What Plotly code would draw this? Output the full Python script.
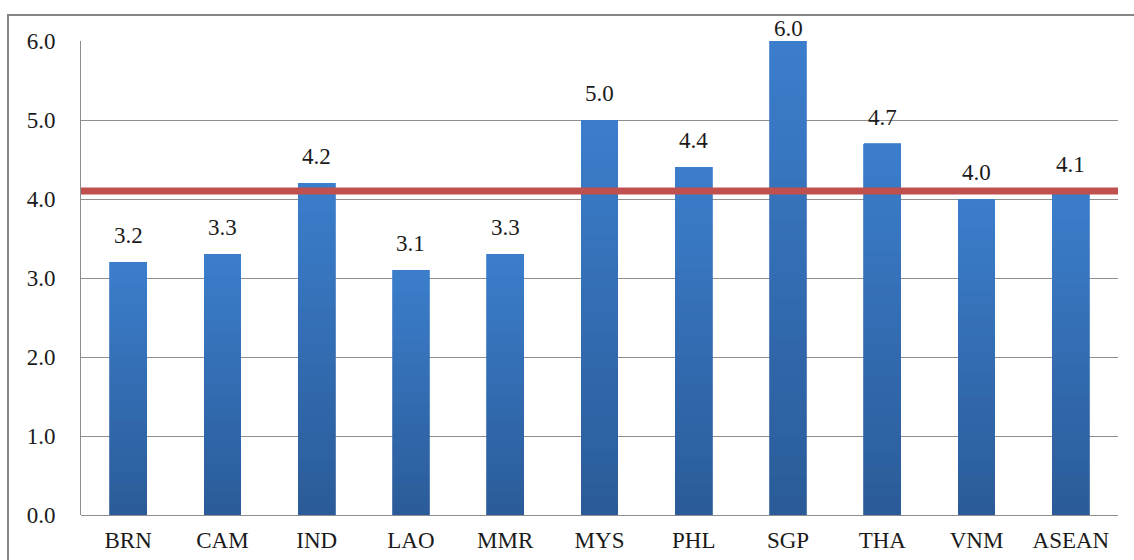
import plotly.graph_objects as go

categories = ["BRN", "CAM", "IND", "LAO", "MMR", "MYS", "PHL", "SGP", "THA", "VNM", "ASEAN"]
values = [3.2, 3.3, 4.2, 3.1, 3.3, 5.0, 4.4, 6.0, 4.7, 4.0, 4.1]
asean_average = 4.1
y_ticks = [0.0, 1.0, 2.0, 3.0, 4.0, 5.0, 6.0]

W, H = 1134, 560
ML, MR, MT, MB = 81, 16, 41, 45
FONT = "Liberation Serif"
FS = 23

top_rgb = (0x3B, 0x7E, 0xCC)
bot_rgb = (0x2B, 0x5B, 0x98)
N = 24

fig = go.Figure()
for k in range(N):
    t = (k + 0.5) / N
    c = tuple(round(bot_rgb[i] + (top_rgb[i] - bot_rgb[i]) * t) for i in range(3))
    col = "rgb(%d,%d,%d)" % c
    fig.add_trace(go.Bar(
        x=categories, y=[v / N for v in values],
        marker=dict(color=col, line=dict(color=col, width=0.8)),
        width=0.39, showlegend=False, hoverinfo="skip",
    ))

fig.add_shape(type="line", xref="paper", yref="y", x0=0, x1=1,
              y0=asean_average, y1=asean_average,
              line=dict(color="#C0504D", width=7), layer="above")

plot_h = H - MT - MB
ymax = 6.0
for cat, v in zip(categories, values):
    room = (ymax - v) / ymax * plot_h
    shift = 12 if room > 30 else -2
    fig.add_annotation(x=cat, y=v, text="%.1f" % v, showarrow=False,
                       yanchor="bottom", yshift=shift,
                       font=dict(family=FONT, size=FS, color="#1a1a1a"))

# outer chart frame
pw = W - ML - MR
fx0 = (8 - ML) / pw
fy1 = (H - MB - 15) / plot_h
fig.add_shape(type="rect", xref="paper", yref="paper",
              x0=fx0, x1=1.2, y0=-0.3, y1=fy1,
              line=dict(color="#868686", width=2), fillcolor="rgba(0,0,0,0)",
              layer="below")

fig.update_layout(
    width=W, height=H, barmode="stack", bargap=0.61,
    margin=dict(l=ML, r=MR, t=MT, b=MB, autoexpand=False),
    paper_bgcolor="white", plot_bgcolor="white",
    font=dict(family=FONT, size=FS, color="#1a1a1a"),
    xaxis=dict(showgrid=False, showline=False, ticks="", automargin=False,
               ticklabelstandoff=9, tickfont=dict(family=FONT, size=FS)),
    yaxis=dict(range=[0, 6.0], tickvals=y_ticks, automargin=False,
               ticktext=["%.1f" % t for t in y_ticks],
               showgrid=True, gridcolor="#8E8E8E", gridwidth=1,
               showline=True, linecolor="#8E8E8E", linewidth=1,
               zeroline=True, zerolinecolor="#8E8E8E", zerolinewidth=1,
               ticks="", ticklabelstandoff=20, tickfont=dict(family=FONT, size=FS)),
)

fig.write_html("out.html", config={"displayModeBar": False},
               post_script="document.body.style.margin='0';document.body.style.overflow='hidden';")
